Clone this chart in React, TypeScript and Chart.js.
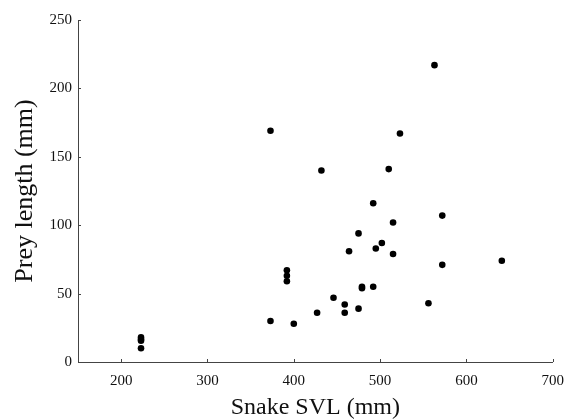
import React, { useEffect, useRef } from "react";
import { Chart, registerables } from "chart.js";

Chart.register(...registerables);

const snakeSVL = [
  223, 223, 223, 223,
  373, 563, 523, 432, 510, 492, 572, 515, 475, 502, 495, 464, 515, 641, 572,
  392, 392, 392, 479, 479, 492, 446, 459, 556, 475, 427, 459, 373, 400,
];
const preyLength = [
  18, 16.5, 15.5, 10,
  169, 217, 167, 140, 141, 116, 107, 102, 94, 87, 83, 81, 79, 74, 71,
  67, 63, 59, 55, 54, 55, 47, 42, 43, 39, 36, 36, 30, 28,
];
const xTicks = [200, 300, 400, 500, 600, 700];
const yTicks = [0, 50, 100, 150, 200, 250];

const FONT = "'Liberation Serif', 'Times New Roman', serif";

const innerTicks = {
  id: "innerTicks",
  afterDraw(chart: any) {
    const ctx = chart.ctx;
    const xs = chart.scales.x;
    const ys = chart.scales.y;
    ctx.save();
    ctx.strokeStyle = "#444";
    ctx.lineWidth = 1;
    ctx.beginPath();
    xTicks.forEach((v) => {
      const px = Math.round(xs.getPixelForValue(v)) + 0.5;
      ctx.moveTo(px, ys.bottom);
      ctx.lineTo(px, ys.bottom - 3);
    });
    yTicks.forEach((v) => {
      const py = Math.round(ys.getPixelForValue(v)) + 0.5;
      ctx.moveTo(xs.left, py);
      ctx.lineTo(xs.left + 3, py);
    });
    ctx.stroke();
    ctx.restore();
  },
};

export default function App() {
  const ref = useRef<HTMLCanvasElement | null>(null);
  useEffect(() => {
    if (!ref.current) return;
    const chart = new Chart(ref.current, {
      type: "scatter",
      data: {
        datasets: [
          {
            label: "Prey",
            data: snakeSVL.map((x, i) => ({ x, y: preyLength[i] })),
            backgroundColor: "#000",
            borderWidth: 0,
            pointRadius: 3.3,
          },
        ],
      },
      plugins: [innerTicks],
      options: {
        animation: false,
        responsive: false,
        layout: { padding: { top: 20, right: 19, left: 0, bottom: 0 } },
        plugins: { legend: { display: false }, tooltip: { enabled: false } },
        scales: {
          x: {
            type: "linear",
            min: 150,
            max: 700,
            afterFit: (s: any) => {
              s.height = 58;
            },
            afterBuildTicks: (s: any) => {
              s.ticks = xTicks.map((v) => ({ value: v }));
            },
            grid: { display: false, drawTicks: false },
            border: { display: true, color: "#444", width: 1 },
            ticks: {
              padding: 10,
              color: "#111",
              font: { family: FONT, size: 15 },
            },
            title: {
              display: true,
              text: "Snake SVL (mm)",
              color: "#111",
              font: { family: FONT, size: 24, lineHeight: 1 },
              padding: { top: 0, bottom: 0 },
            },
          },
          y: {
            type: "linear",
            min: 0,
            max: 250,
            afterFit: (s: any) => {
              s.width = 78;
            },
            afterBuildTicks: (s: any) => {
              s.ticks = yTicks.map((v) => ({ value: v }));
            },
            grid: { display: false, drawTicks: false },
            border: { display: true, color: "#444", width: 1 },
            ticks: {
              padding: 6,
              color: "#111",
              font: { family: FONT, size: 15 },
            },
            title: {
              display: true,
              text: "Prey length (mm)",
              color: "#111",
              font: { family: FONT, size: 26, lineHeight: 1 },
              padding: { top: 12, bottom: 0 },
            },
          },
        },
      },
    });
    return () => chart.destroy();
  }, []);
  return (
    <div style={{ position: "fixed", left: 0, top: 0, width: 574, height: 420, background: "#fff" }}>
      <canvas ref={ref} width={574} height={420} />
    </div>
  );
}
